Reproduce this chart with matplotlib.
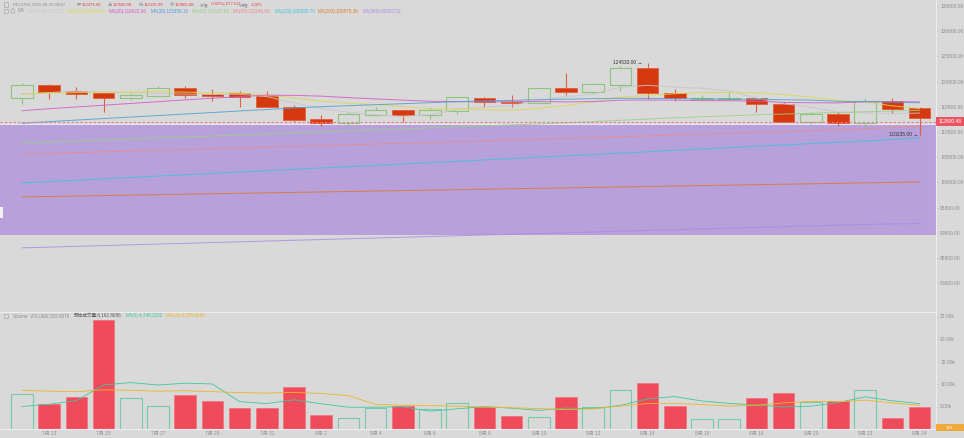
import matplotlib
matplotlib.use("Agg")
import matplotlib.pyplot as plt
from matplotlib.patches import Rectangle, Polygon
from matplotlib.transforms import blended_transform_factory, ScaledTranslation

plt.rcParams['font.family'] = ['Liberation Sans', 'Noto Sans CJK SC', 'DejaVu Sans']

# ---------------- data ----------------
dates = ['7/22', '7/23', '7/24', '7/25', '7/26', '7/27', '7/28', '7/29', '7/30', '7/31',
         '8/1', '8/2', '8/3', '8/4', '8/5', '8/6', '8/7', '8/8', '8/9', '8/10', '8/11', '8/12',
         '8/13', '8/14', '8/15', '8/16', '8/17', '8/18', '8/19', '8/20', '8/21', '8/22', '8/23', '8/24']
opens = [117470, 120109, 118918, 118462, 117589, 117986, 119454, 118383, 118462, 117986,
         115804, 113304, 112510, 114097, 115089, 114097, 115010, 117589, 116736, 116478,
         119454, 118660, 120109, 123422, 118462, 117391, 117391, 117470, 116339, 112828,
         114295, 112510, 116994, 115486]
highs = [120446, 120307, 119652, 118660, 118462, 119910, 119910, 119315, 118918, 118918,
         116141, 114157, 114811, 115804, 115150, 115804, 117788, 117788, 118125, 119500,
         122430, 120446, 123878, 124533, 119256, 118125, 118660, 117668, 116796, 114811,
         114811, 117470, 117470, 115804]
lows = [116280, 117331, 117272, 114811, 117133, 117870, 117470, 116994, 115804, 115650,
        112828, 112034, 112034, 114000, 112708, 113363, 114355, 115804, 115804, 116440,
        118125, 118264, 118978, 117272, 116934, 117331, 117331, 114811, 112760, 112371,
        112034, 111835, 114613, 110235]
closes = [120109, 118780, 118383, 117589, 118065, 119454, 118065, 117986, 117788, 115744,
          113165, 112569, 114295, 115149, 114097, 115089, 117668, 116676, 116478, 119454,
          118660, 120248, 123422, 118462, 117589, 117589, 117589, 116339, 112828, 114295,
          112510, 116994, 115407, 113502]
volumes = [7778, 5556, 7111, 24222, 6889, 5111, 7556, 6222, 4667, 4667,
           9333, 3111, 2444, 4667, 5111, 4444, 5778, 4889, 2889, 2667,
           7111, 4889, 8667, 10222, 5111, 2222, 2222, 6889, 8000, 6000,
           6222, 8667, 2444, 4889]

ma5 = [118300, 118600, 118900, 118700, 118585, 118454, 118311, 118232, 118272, 117807,
       116550, 115450, 114712, 114184, 113855, 114240, 115260, 115736, 116002, 117073,
       117787, 118303, 119652, 120049, 119676, 119462, 118930, 117514, 116387, 115728,
       114712, 114593, 114407, 114542]
ma10 = [118300, 118500, 118600, 118700, 118700, 118800, 118700, 118600, 118500, 118196,
        117502, 116881, 116472, 116228, 115831, 115395, 115355, 115224, 115093, 115464,
        116014, 116781, 117694, 118025, 118375, 118625, 118617, 118583, 118218, 117702,
        117087, 116762, 115960, 115464]
ma20 = [115010, 115400, 115750, 116100, 116450, 116800, 117150, 117500, 117800, 118100,
        118050, 117900, 117600, 117350, 117100, 116900, 116800, 116800, 116800, 116830,
        116758, 116831, 117083, 117127, 117103, 117010, 116986, 116904, 116656, 116583,
        116550, 116772, 116827, 116745]
ma30 = [112510, 112850, 113150, 113450, 113750, 114050, 114350, 114650, 114950, 115250,
        115550, 115800, 116000, 116200, 116400, 116600, 116800, 116950, 117050, 117200,
        117300, 117400, 117470, 117450, 117400, 117350, 117300, 117250, 117180, 117121,
        116868, 116808, 116709, 116573]
ma60 = [108600, 108800, 109000, 109200, 109400, 109600, 109800, 110000, 110200, 110400,
        110600, 110800, 111000, 111200, 111400, 111600, 111800, 112000, 112200, 112400,
        112600, 112850, 113100, 113350, 113600, 113800, 114000, 114200, 114350, 114500,
        114650, 114800, 114950, 115100]
ma90 = [106400, 106550, 106700, 106850, 107000, 107150, 107300, 107450, 107650, 107800,
        107950, 108100, 108250, 108400, 108550, 108700, 108850, 109000, 109150, 109350,
        109500, 109700, 109850, 110000, 110200, 110350, 110550, 110700, 110850, 111050,
        111250, 111450, 111650, 111900]
ma120 = [100700, 100950, 101200, 101500, 101750, 102050, 102300, 102550, 102850, 103100,
         103350, 103650, 103900, 104150, 104450, 104700, 104950, 105250, 105500, 105800,
         106050, 106300, 106600, 106850, 107150, 107400, 107700, 107950, 108200, 108500,
         108750, 109000, 109300, 109580]
ma200 = [97900, 97990, 98080, 98170, 98260, 98350, 98440, 98530, 98620, 98710,
         98800, 98890, 98980, 99070, 99160, 99250, 99340, 99430, 99520, 99610,
         99700, 99790, 99880, 99970, 100060, 100150, 100240, 100330, 100420, 100510,
         100600, 100690, 100780, 100875]
ma360 = [87800, 87950, 88100, 88250, 88400, 88550, 88700, 88850, 89000, 89150,
         89300, 89450, 89600, 89750, 89900, 90050, 90200, 90350, 90500, 90650,
         90800, 90950, 91100, 91250, 91400, 91550, 91700, 91850, 92000, 92150,
         92300, 92450, 92550, 92600]

vol_ma5 = [5000, 5500, 6300, 9800, 10311, 9778, 10178, 10000, 6089, 5645,
           6489, 5600, 4844, 4844, 4933, 3955, 4489, 4978, 4622, 4133,
           4667, 4489, 5245, 6711, 7200, 6222, 5689, 5333, 4889, 5067,
           5867, 7156, 6267, 5644]
vol_ma10 = [8600, 8400, 8300, 8700, 8600, 8400, 8500, 8300, 8100, 7978,
            8133, 7889, 7422, 5467, 5289, 5222, 5044, 4911, 4733, 4533,
            4311, 4489, 5111, 5667, 5667, 5444, 5089, 5289, 5800, 6133,
            6044, 6422, 5800, 5267]

x_tick_idx = [1, 3, 5, 7, 9, 11, 13, 15, 17, 19, 21, 23, 25, 27, 29, 31, 33]
x_tick_labels = ['7月 23', '7月 25', '7月 27', '7月 29', '7月 31', '8月 2', '8月 4', '8月 6',
                 '8月 8', '8月 10', '8月 12', '8月 14', '8月 16', '8月 18', '8月 20', '8月 22', '8月 24']
price_ticks = [135800, 130800, 125800, 120800, 115800, 110800, 105800, 100800, 95800, 90800, 85800, 80800]
vol_ticks = [5000, 10000, 15000, 20000, 25000]
vol_tick_labels = ['5.00k', '10.00k', '15.00k', '20.00k', '25.00k']

current_price = 112800.48
current_volume = 315.8076
zone_top, zone_bottom = 112371, 90349
high_label, low_label = '124533.00', '110235.00'

ma_names = ['MA(5):114210.27', 'MA(10):114961.46', 'MA(20):116622.60', 'MA(30):115356.16',
            'MA(60):115137.83', 'MA(90):111946.60', 'MA(120):109580.70', 'MA(200):100875.36',
            'MA(360):92600.53']
ma_colors = ['#c6c6cc', '#dcd84a', '#d458c4', '#4c9fd4', '#98d088', '#e88c8c', '#3cc6dc', '#dc7a2c', '#aa8ce6']
ma_legend_x = [29, 68, 109, 151, 192, 233, 275, 318, 363]

# ---------------- style ----------------
BG = '#d9d9d9'
RED = '#d6390f'
RED_EDGE = '#e0603c'
GREEN = '#8cc47a'
VRED = '#f04b5b'
VGREEN = '#72cda6'
GRAY = '#8e8e98'
FS = 3.5
FSH1 = 3.05
FSH2 = 3.3
W, H = 964, 438

fig = plt.figure(figsize=(W / 100, H / 100), dpi=100, facecolor=BG)


def fx(px):
    return px / W


def fy(py):
    return 1 - py / H


ax = fig.add_axes([0, fy(310), fx(936), 310 / H], facecolor=BG)
axv = fig.add_axes([0, fy(429), fx(936), (429 - 312) / H], facecolor=BG, sharex=ax)

x = list(range(len(dates)))
bw = 0.8

# zone
ax.axhspan(zone_bottom, zone_top, color='#b8a0da', zorder=0.5, lw=0)
ax.axhline(zone_top, color='#ece6f4', lw=0.7, zorder=0.6)

# MA lines on price
ma_series = [ma5, ma10, ma20, ma30, ma60, ma90, ma120, ma200, ma360]
for s, c in zip(ma_series, ma_colors):
    ax.plot(x, s, color=c, lw=0.7, zorder=4, alpha=0.85)

# candles
for i in x:
    o, h, l, c = opens[i], highs[i], lows[i], closes[i]
    up = c >= o
    bottom = min(o, c)
    height = max(abs(c - o), 150)
    if up:
        ax.vlines(i, l, h, color=GREEN, lw=0.8, zorder=2)
        ax.bar(i, height, bottom=bottom, width=bw, facecolor=BG, edgecolor=GREEN, lw=0.8, zorder=3)
    else:
        ax.vlines(i, l, h, color=RED_EDGE, lw=0.8, zorder=2)
        ax.bar(i, height, bottom=bottom, width=bw, facecolor=RED, edgecolor=RED_EDGE, lw=0.6, zorder=3)

# current price line and tag
ax.axhline(current_price, color='#e87884', lw=0.8, ls=(0, (2, 2)), zorder=5)
bt = blended_transform_factory(ax.transAxes, ax.transData)
ax.add_patch(Rectangle((1.0, current_price - 900), 28 / 936, 1800, transform=bt,
                       facecolor='#ec5464', edgecolor='none', clip_on=False, zorder=6))
ax.text(1.0 + 14 / 936, current_price, f'{current_price:.2f}', transform=bt, ha='center', va='center',
        fontsize=FS, color='white', zorder=7, clip_on=False)

# high / low annotations
ih = highs.index(max(highs))
il = lows.index(min(lows))
ax.text(ih - 0.2, highs[ih], high_label + ' →', ha='right', va='center', fontsize=FS, color='#333333', zorder=8)
ax.text(il - 0.05, lows[il], low_label + ' →', ha='right', va='center', fontsize=FS, color='#333333', zorder=8)

ax.set_xlim(-22 / 27.2, (936 - 22) / 27.2)
ax.set_ylim(124533 - 198.4 * (310 - 62.7), 124533 + 198.4 * 62.7)
ax.yaxis.tick_right()
ax.set_yticks(price_ticks)
ax.set_yticklabels([f'{v:.2f}' for v in price_ticks])
off = ScaledTranslation(0, -4 / 100, fig.dpi_scale_trans)
for lab in ax.get_yticklabels():
    lab.set_transform(lab.get_transform() + off)
ax.tick_params(axis='y', labelsize=FS, colors='#b8b8bc', labelcolor=GRAY, length=1.5, width=0.5, pad=1.5)
ax.tick_params(axis='x', bottom=False, labelbottom=False)
for sp in ['top', 'left', 'bottom']:
    ax.spines[sp].set_visible(False)
ax.spines['right'].set_color('#ededed')
ax.spines['right'].set_linewidth(0.8)

# volume
for i in x:
    if closes[i] >= opens[i]:
        axv.bar(i, volumes[i], width=bw, facecolor='none', edgecolor=VGREEN, lw=0.8, zorder=2)
    else:
        axv.bar(i, volumes[i], width=bw, facecolor=VRED, edgecolor='#f2707c', lw=0.5, zorder=2)
axv.plot(x, vol_ma5, color='#3cc8a0', lw=0.6, zorder=3)
axv.plot(x, vol_ma10, color='#f0b428', lw=0.6, zorder=3)
axv.set_ylim(0, (429 - 312) / 22.5 * 5000)
axv.yaxis.tick_right()
axv.set_yticks(vol_ticks)
axv.set_yticklabels(vol_tick_labels)
axv.tick_params(axis='y', labelsize=FS, colors='#b8b8bc', labelcolor=GRAY, length=1.5, width=0.5, pad=1.5)
axv.set_xticks(x_tick_idx)
axv.set_xticklabels(x_tick_labels)
axv.tick_params(axis='x', labelsize=FS, labelcolor=GRAY, length=0, pad=1.5)
axv.spines['left'].set_visible(False)
for sp in ['right', 'top', 'bottom']:
    axv.spines[sp].set_color('#ededed')
    axv.spines[sp].set_linewidth(0.8)

btv = blended_transform_factory(axv.transAxes, axv.transData)
axv.add_patch(Rectangle((1.0, current_volume - 700), 28 / 936, 1400, transform=btv,
                        facecolor='#f0aa3c', edgecolor='none', clip_on=False, zorder=6))
axv.text(1.0 + 14 / 936, current_volume, f'{current_volume:.0f}', transform=btv, ha='center', va='center',
         fontsize=FS * 0.9, color='white', zorder=7, clip_on=False)

# ---------------- header texts ----------------
RVAL = '#e4404e'
row1 = [('BTC/USD', 12.7, GRAY), ('2025-08-25 08:00', 32, GRAY), ('开', 77, GRAY), ('113476.00', 82, RVAL),
        ('高', 108, GRAY), ('113500.00', 113, RVAL), ('低', 139, GRAY), ('112135.98', 144, RVAL),
        ('收', 170, GRAY), ('112800.48', 175, RVAL), ('涨幅', 200, GRAY), ('-0.60%(-677.52)', 211, RVAL),
        ('振幅', 240, GRAY), ('1.20%', 251, RVAL)]
for t, px, c in row1:
    fig.text(fx(px), fy(4.5), t, fontsize=FSH1, color=c, ha='left', va='center')

fig.text(fx(18), fy(11), 'MA', fontsize=FSH2, color=GRAY, ha='left', va='center')
for t, px, c in zip(ma_names, ma_legend_x, ma_colors):
    fig.text(fx(px), fy(11), t, fontsize=FSH2, color=c, ha='left', va='center')

row_v = [('Volume', 12.7, GRAY), ('VOLUME:315.8076', 30, GRAY), ('预估成交量:6,162.8686', 74, '#5a5a60'),
         ('MA(5):4,348.1202', 126, '#3cc8a0'), ('MA(10):4,589.6650', 166, '#f0b428')]
for t, px, c in row_v:
    fig.text(fx(px), fy(316), t, fontsize=FSH2, color=c, ha='left', va='center')

# small checkbox / icon marks
for py in (4.5, 11, 316):
    fig.patches.append(Rectangle((fx(3.5), fy(py + 2.3)), fx(4.6), 4.6 / H, transform=fig.transFigure,
                                 facecolor='none', edgecolor='#a0a0a8', lw=0.4))
# bell icon drawn as a small shape
fig.patches.append(Polygon([(fx(11), fy(13)), (fx(12), fy(9)), (fx(13), fy(8.5)), (fx(14), fy(9)),
                            (fx(15), fy(13))], closed=True, transform=fig.transFigure,
                           facecolor='none', edgecolor='#a0a0a8', lw=0.4))
fig.patches.append(Rectangle((0, fy(218)), fx(3), 11 / H, transform=fig.transFigure,
                             facecolor='#f2f2f2', edgecolor='none'))

fig.savefig('out.png', dpi=100, facecolor=BG)
